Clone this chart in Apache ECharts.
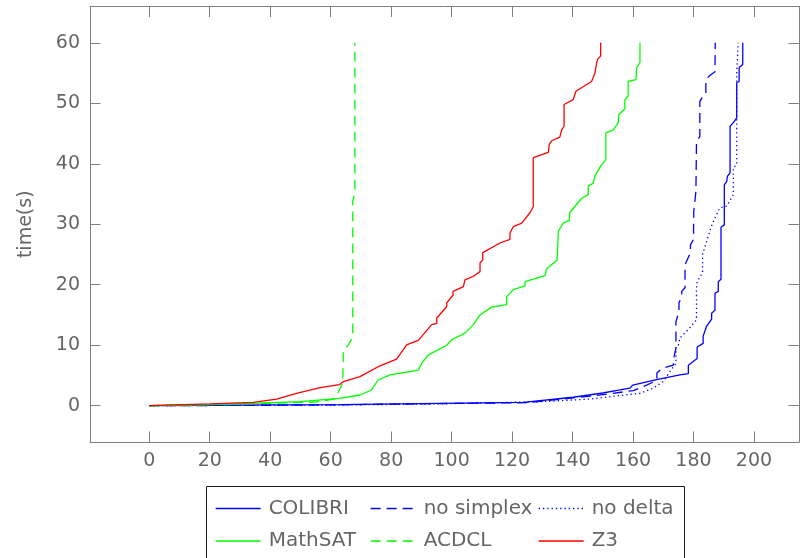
<!DOCTYPE html>
<html>
<head>
<meta charset="utf-8">
<script src="https://cdn.jsdelivr.net/npm/echarts@6.0.0/dist/echarts.min.js"></script>
<style>
html,body{margin:0;padding:0;background:#fff;}
#chart{width:800px;height:558px;}
</style>
</head>
<body>
<div id="chart"></div>
<script>
// ---- data ----
const xTicks = [0, 20, 40, 60, 80, 100, 120, 140, 160, 180, 200];
const yTicks = [0, 10, 20, 30, 40, 50, 60];
const seriesNames = ['COLIBRI', 'no simplex', 'no delta', 'MathSAT', 'ACDCL', 'Z3'];

const colibri = [[0,0],[30,0.1],[63,0.17],[96,0.4],[123.7,0.56],[140.2,1.4],[150,2.1],[155.7,2.6],[159,2.9],[159.9,3.4],
  [167.8,4.3],[175.5,5.1],[178.3,5.3],[178.3,6.7],[179.9,7.3],[181.2,7.8],[181.2,9.7],[183.2,10.3],[183.2,11.5],
  [184.3,13.1],[186,14.3],[186,15.3],[187.1,15.8],[187.1,18.6],[188.2,18.9],[188.2,20.5],[189.1,20.9],[189.1,29.5],
  [190.2,29.9],[190.2,36.5],[191,37.1],[191.2,37.9],[192.1,38.5],[192.1,46.2],[193.2,46.8],[194.3,47.6],[194.3,53.4],
  [195.1,53.6],[195.1,55.9],[196.3,56.4],[196.3,60]];

const noSimplex = [[0,0],[40,0.08],[63,0.15],[96,0.35],[125,0.5],[148,1.7],[160.1,2.5],[164.5,3.4],[166.2,3.8],
  [167.9,4.3],[167.9,5.4],[169.6,6.2],[173.3,6.7],[173.6,8.1],[174.2,9.5],[174.2,13.9],[175.2,15.5],[175.2,17],
  [176.1,18],[176.1,18.9],[177.2,19.5],[177.2,23.3],[179,25.3],[179,26.6],[180,27.5],[180.1,32.1],[180.8,35.4],
  [181,43.7],[182.1,44.5],[182.1,50.3],[183.2,51.2],[184.1,51.7],[184.1,53.9],[185.2,54.5],[187.1,55.2],[187.2,60]];

const noDelta = [[0,0],[63,0.12],[96,0.3],[129.2,0.66],[145.8,1.1],[157.9,1.8],[162.3,2.05],[166.7,2.9],[170,4],
  [172,5.5],[174.2,7],[174.2,9.8],[175,10],[175.5,11.2],[178.3,12.6],[181,14.2],[181,19.5],[181.2,20.5],[183,22],
  [183,25],[183.8,26.3],[185.5,29],[185.7,29.4],[187.1,31],[188.7,32.7],[191,33],[193.2,34.9],[193.2,39.4],
  [194.3,39.8],[194.3,55],[194.8,60]];

const mathsat = [[0,0],[20,0.2],[34.4,0.4],[49.8,0.66],[63,1.2],[69.7,1.77],[73.5,2.6],[75.7,4.25],[79.6,5.1],
  [89,5.9],[90.1,7.0],[92.3,8.4],[98.4,10.0],[100,10.9],[104.4,12.0],[107.2,13.4],[109.4,15.0],[113.2,16.3],
  [118.2,16.7],[118.2,18.0],[120.4,19.2],[124.3,19.8],[124.3,20.5],[130.9,21.5],[131.4,22.6],[134.9,24.1],
  [135.3,28.8],[136.9,30.2],[138.9,30.6],[139.1,31.9],[143,34.3],[145.2,34.9],[145.2,36.3],[146.9,36.8],
  [147.4,38.0],[149.3,39.6],[151,40.7],[151,45.1],[153.5,45.6],[155.1,46.8],[155.3,48.1],[157.3,49.1],
  [157.3,50.6],[158.4,51.2],[158.4,53.6],[161,53.9],[161.2,55.9],[162.3,56.7],[162.3,60]];

const acdcl = [[0,0],[30,0.3],[55,0.6],[61,1.1],[62,1.8],[64,3.7],[64.2,9.2],[65.8,10],[67.3,11.4],[67.3,33.8],
  [68,35.2],[68,60]];

const z3 = [[0,0],[20,0.3],[34.4,0.56],[42.1,1.1],[48.7,2.05],[56.5,3.0],[63,3.5],[64.2,4.0],[69.7,4.8],[76.3,6.6],
  [81.8,7.7],[85.1,10.05],[89,10.8],[93.4,13.4],[95.1,13.6],[95.1,14.5],[98.4,16.4],[98.4,17.0],[100.5,18.3],
  [100.5,18.9],[103.9,19.7],[104.4,20.8],[107.2,21.4],[109.4,22.2],[109.4,23.6],[110.3,24.1],[110.3,25.3],
  [116,26.9],[119.3,27.5],[119.3,28.5],[120.4,29.6],[123.2,30.2],[125.9,31.9],[127,32.9],[127,41.0],[132,41.9],
  [132.3,43.2],[133.1,43.8],[135.8,44.4],[136.4,45.6],[137.2,46.2],[137.2,49.8],[140.2,50.6],[141.1,52.0],
  [146.3,53.6],[147.4,55.0],[148,56.7],[148.3,57.3],[149.3,57.8],[149.3,60]];

const seriesData = [colibri, noSimplex, noDelta, mathsat, acdcl, z3];

// ---- styles ----
const colors = ['#0000ff', '#0000ff', '#0000ff', '#00ff00', '#00ff00', '#ff0000'];
const dashes = ['solid', [10, 6], [1.3, 3], 'solid', [10, 6], 'solid'];
const axisColor = '#808080';
const textColor = '#666666';
const fontFamily = 'DejaVu Sans';

const series = seriesNames.map((name, i) => ({
  name: name,
  type: 'line',
  data: seriesData[i],
  showSymbol: false,
  symbol: 'none',
  xAxisIndex: 0,
  yAxisIndex: 0,
  lineStyle: { color: colors[i], width: 1.3, type: dashes[i] },
  itemStyle: { color: colors[i] },
  emphasis: { disabled: true },
  animation: false,
  z: 2 + i
}));

// legend layout: 3 columns x 2 rows
const legendCols = [215, 370, 538];
const legendRows = [496.5, 529];
const legends = seriesNames.map((name, i) => ({
  data: [name],
  left: legendCols[i % 3],
  top: legendRows[Math.floor(i / 3)],
  padding: 0,
  itemWidth: 45,
  itemHeight: 14,
  selectedMode: false,
  itemStyle: { opacity: 0, borderWidth: 0 },
  lineStyle: { width: 1.3 },
  textStyle: { fontFamily: fontFamily, fontSize: 20, color: textColor, lineHeight: 24, padding: [0, 0, 0, 3] }
}));

const baseAxis = {
  type: 'value',
  axisLine: { show: true, onZero: false, lineStyle: { color: axisColor, width: 1 } },
  splitLine: { show: false },
  axisPointer: { show: false }
};

const option = {
  backgroundColor: '#ffffff',
  animation: false,
  grid: { left: 90, top: 6.5, right: 1, bottom: 116, containLabel: false },
  xAxis: [
    Object.assign({}, baseAxis, {
      position: 'bottom', min: -19.6, max: 214.9,
      axisTick: { show: true, inside: true, length: 10.5, customValues: xTicks, lineStyle: { color: axisColor } },
      axisLabel: { show: true, customValues: xTicks, margin: 10, color: textColor, fontSize: 19, fontFamily: fontFamily }
    }),
    Object.assign({}, baseAxis, {
      position: 'top', min: -19.6, max: 214.9,
      axisTick: { show: true, inside: true, length: 10.5, customValues: xTicks, lineStyle: { color: axisColor } },
      axisLabel: { show: false }
    })
  ],
  yAxis: [
    Object.assign({}, baseAxis, {
      position: 'left', min: -6, max: 66,
      name: 'time(s)', nameLocation: 'middle', nameGap: 54, nameRotate: 90,
      nameTextStyle: { color: textColor, fontSize: 19, fontFamily: fontFamily },
      axisTick: { show: true, inside: true, length: 10.5, customValues: yTicks, lineStyle: { color: axisColor } },
      axisLabel: { show: true, customValues: yTicks, margin: 10, color: textColor, fontSize: 19, fontFamily: fontFamily }
    }),
    Object.assign({}, baseAxis, {
      position: 'right', min: -6, max: 66,
      axisTick: { show: true, inside: true, length: 10.5, customValues: yTicks, lineStyle: { color: axisColor } },
      axisLabel: { show: false }
    })
  ],
  legend: legends,
  graphic: [{
    type: 'rect',
    shape: { x: 206.5, y: 486.5, width: 478, height: 80 },
    style: { fill: 'none', stroke: '#1a1a1a', lineWidth: 1 },
    silent: true, z: 0
  }],
  series: series
};

const chart = echarts.init(document.getElementById('chart'), null, { renderer: 'canvas' });
chart.setOption(option);
</script>
</body>
</html>
